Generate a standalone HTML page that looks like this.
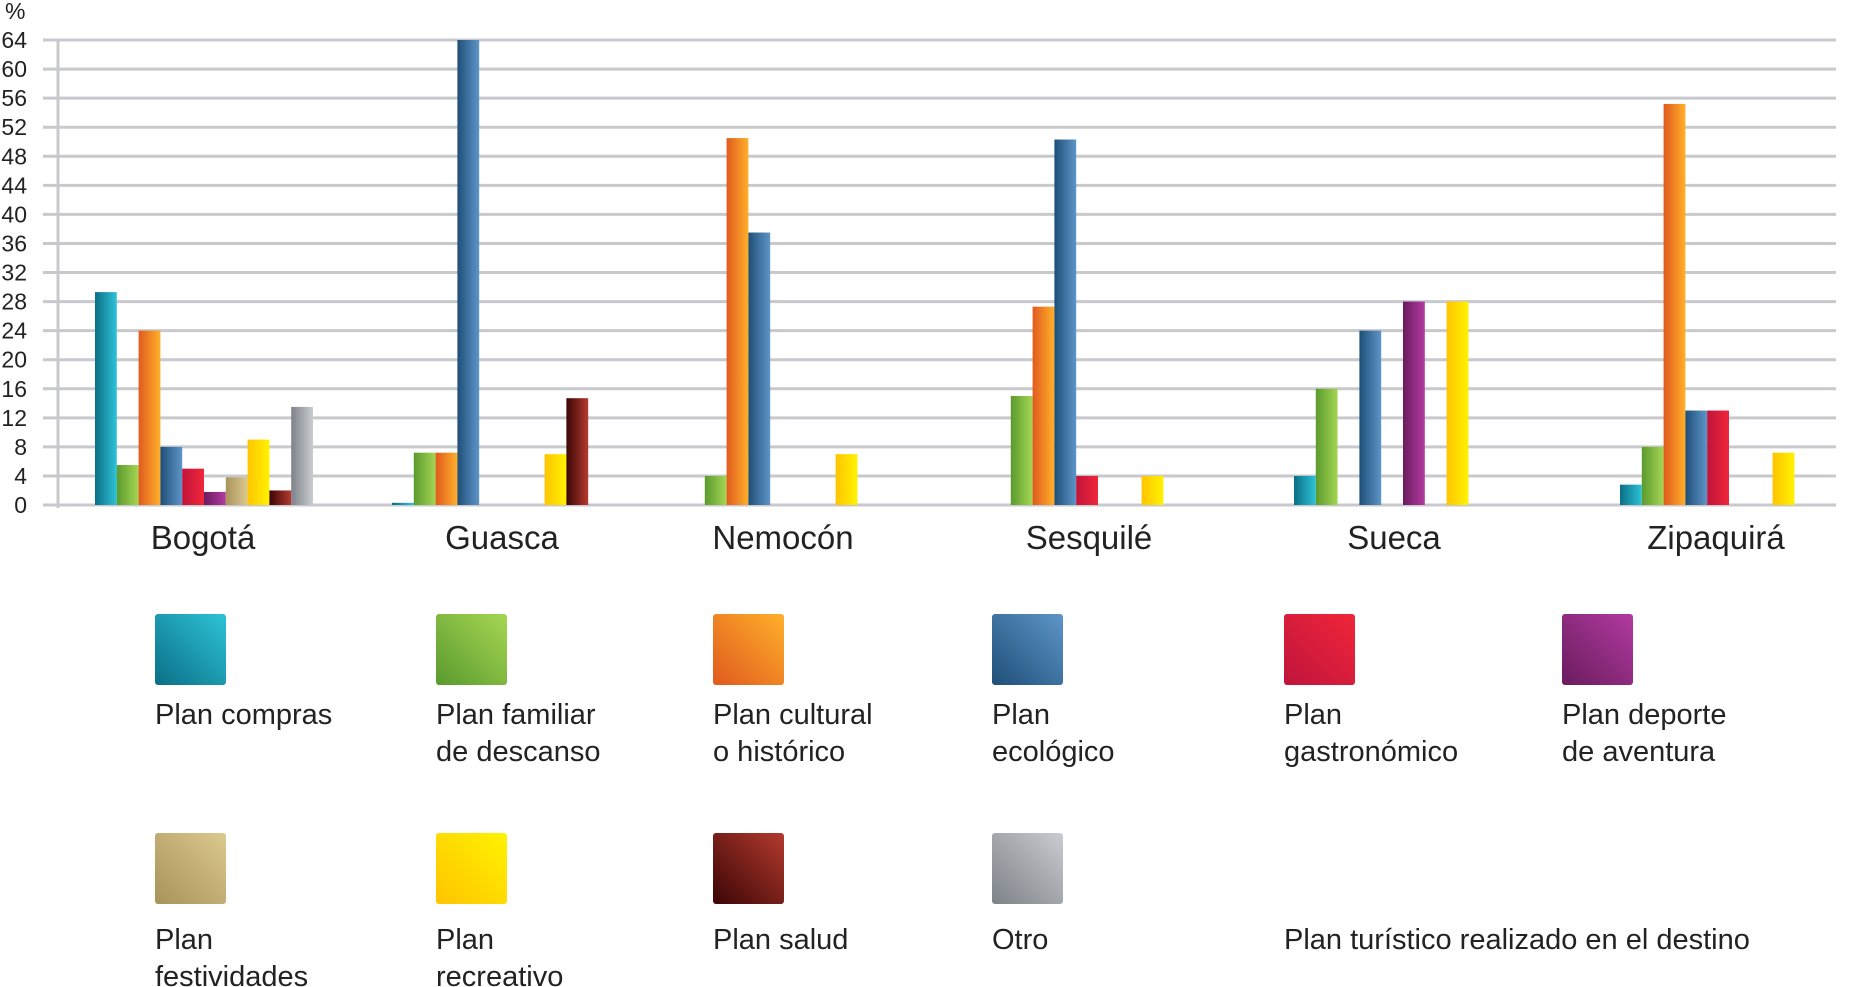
<!DOCTYPE html>
<html><head><meta charset="utf-8"><style>
body{margin:0;background:#fff;width:1852px;height:987px;overflow:hidden;font-family:"Liberation Sans",sans-serif}
svg{display:block}
</style></head><body>
<svg id="chart" width="1852" height="987" xmlns="http://www.w3.org/2000/svg">
<defs id="defs"></defs>
<g id="grid"></g><g id="bars"></g><g id="legend"></g>
</svg>
<script>
const categories=["Bogotá","Guasca","Nemocón","Sesquilé","Sueca","Zipaquirá"];
const seriesNames=[["Plan compras"],["Plan familiar","de descanso"],["Plan cultural","o histórico"],["Plan","ecológico"],["Plan","gastronómico"],["Plan deporte","de aventura"],["Plan","festividades"],["Plan","recreativo"],["Plan salud"],["Otro"]];
const compras=[29.3,0.3,0,0,4,2.8];
const familiar=[5.5,7.2,4,15,16,8];
const cultural=[24,7.2,50.5,27.3,0,55.2];
const ecologico=[8,64,37.5,50.3,24,13];
const gastronomico=[5,0,0,4,0,13];
const deporte=[1.8,0,0,0,28,0];
const festividades=[3.8,0,0,0,0,0];
const recreativo=[9,7,7,4,28,7.2];
const salud=[2,14.7,0,0,0,0];
const otro=[13.5,0,0,0,0,0];
const yTicks=[0,4,8,12,16,20,24,28,32,36,40,44,48,52,56,60,64];
const series=[compras,familiar,cultural,ecologico,gastronomico,deporte,festividades,recreativo,salud,otro];
const colors=[["#0a6f86","#2ec3d8"],["#5a9a2e","#a6d653"],["#e05a1e","#ffb02a"],["#1f4f78","#5e95c8"],["#c0143c","#f0263a"],["#6a1c5e","#b23aa0"],["#a8935a","#dcc98e"],["#ffc400","#fff200"],["#3a0505","#b43a2e"],["#7d8288","#c9ccd0"]];
const groupLeft=[95,392,683,989,1294,1620];
const labelX=[203,502,783,1089,1394,1716];
const NS="http://www.w3.org/2000/svg";
const y0=505,yTop=40,vmax=64;
function y(v){return y0-(v/vmax)*(y0-yTop);}
const bw=21.8;
function mk(t,a,p){const e=document.createElementNS(NS,t);for(const k in a)e.setAttribute(k,a[k]);p.appendChild(e);return e;}
const defs=document.getElementById('defs');
colors.forEach((c,i)=>{const g=mk('linearGradient',{id:'g'+i,x1:0,y1:0,x2:1,y2:0},defs);mk('stop',{offset:0,'stop-color':c[0]},g);mk('stop',{offset:1,'stop-color':c[1]},g);
const g2=mk('linearGradient',{id:'l'+i,x1:0,y1:1,x2:1,y2:0},defs);mk('stop',{offset:0,'stop-color':c[0]},g2);mk('stop',{offset:1,'stop-color':c[1]},g2);});
const grid=document.getElementById('grid');
yTicks.forEach(t=>{
const l=mk('line',{x1:43,x2:1836,y1:y(t),y2:y(t),stroke:'#c8c9cd','stroke-width':3},grid);


const tx=mk('text',{x:27,y:y(t)+8,'text-anchor':'end','font-size':23,fill:'#222'},grid);tx.textContent=t;


});
const ax=mk('line',{x1:58,x2:58,y1:yTop,y2:y0+3,stroke:'#c8c9cd','stroke-width':3},grid);


const pc=mk('text',{x:5,y:19,'font-size':23,fill:'#222'},grid);pc.textContent='%';


const bars=document.getElementById('bars');
categories.forEach((c,ci)=>{
series.forEach((s,si)=>{const v=s[ci];if(v<=0)return;
const r=mk('rect',{x:groupLeft[ci]+si*bw,y:y(v),width:bw,height:y0-y(v),fill:'url(#g'+si+')'},bars);

});
const t=mk('text',{x:labelX[ci],y:549,'text-anchor':'middle','font-size':33,fill:'#222'},bars);t.textContent=c;


});
const lg=document.getElementById('legend');
const lx=[155,436,713,992,1284,1562];
seriesNames.forEach((n,i)=>{const row=Math.floor(i/6),col=i%6;const x=lx[col],sy=row?833:614;
const r=mk('rect',{x:x,y:sy,width:71,height:71,rx:3,fill:'url(#l'+i+')'},lg);


const t=mk('text',{x:x,y:row?949:724,'font-size':29,fill:'#222'},lg);


n.forEach((ln,k)=>{const ts=mk('tspan',{x:x,dy:k?37:0},t);ts.textContent=ln;});
});
const ft=mk('text',{x:1284,y:949,'font-size':29,fill:'#222'},lg);ft.textContent='Plan turístico realizado en el destino';


</script>
</body></html>
